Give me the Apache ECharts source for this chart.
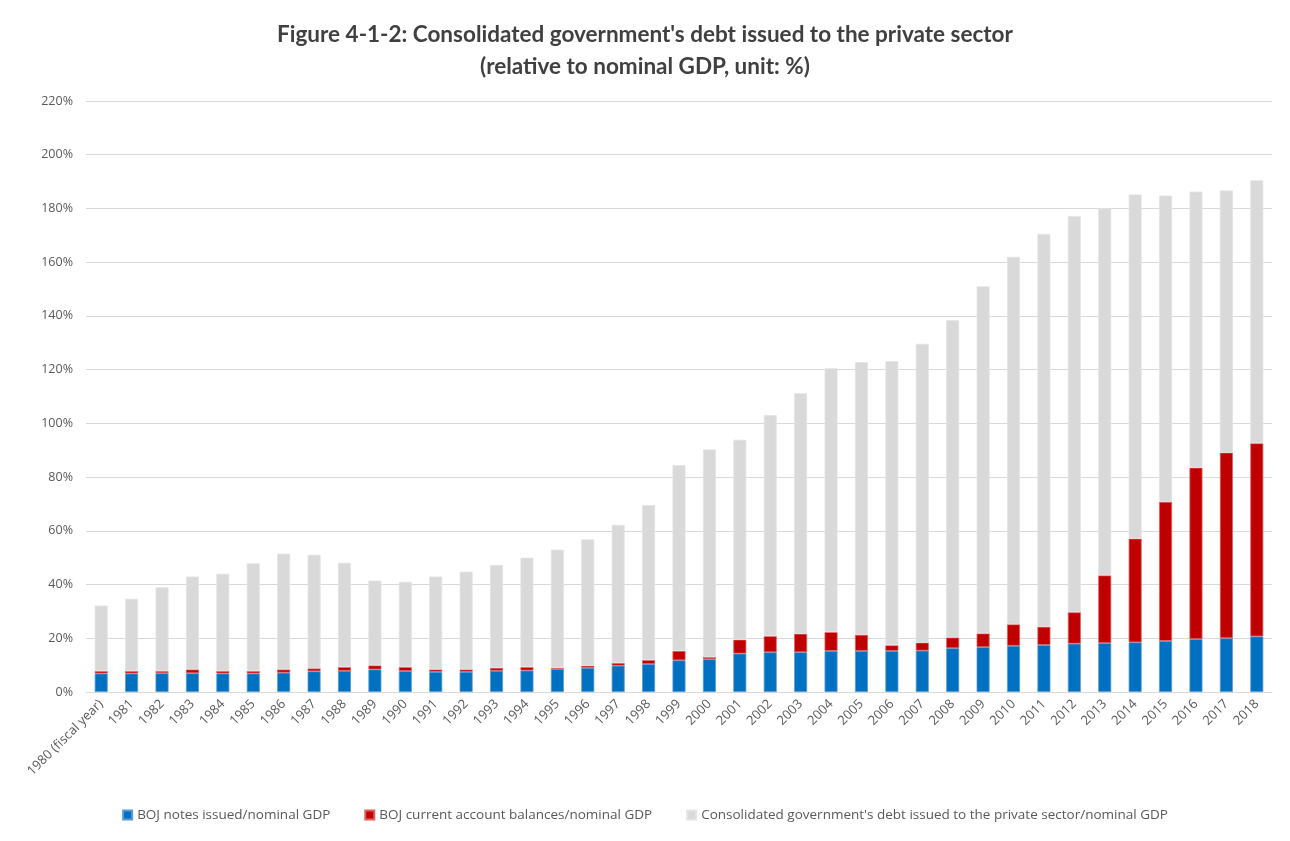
<!DOCTYPE html>
<html><head><meta charset="utf-8">
<script src="https://cdn.jsdelivr.net/npm/echarts@6/dist/echarts.min.js"></script>
<style>html,body{margin:0;padding:0;background:#fff}#c{width:1290px;height:841px}</style>
</head><body><div id="c"></div>
<script>
const categories = ['1980 (fiscal year)','1981','1982','1983','1984','1985','1986','1987','1988','1989','1990','1991','1992','1993','1994','1995','1996','1997','1998','1999','2000','2001','2002','2003','2004','2005','2006','2007','2008','2009','2010','2011','2012','2013','2014','2015','2016','2017','2018'];
const bojNotes = [6.9,6.9,7.0,7.0,6.9,6.9,7.2,7.7,7.9,8.4,7.8,7.5,7.5,7.9,8.0,8.6,9.0,9.8,10.4,11.8,12.2,14.3,14.8,14.8,15.3,15.3,15.3,15.4,16.3,16.7,17.2,17.5,18.0,18.2,18.5,19.0,19.7,20.0,20.7];
const bojCurrent = [0.9,0.9,0.8,1.4,0.9,0.9,1.2,1.1,1.4,1.5,1.5,0.9,0.9,1.1,1.3,0.4,0.8,1.0,1.5,3.5,0.8,5.2,6.0,6.9,7.0,6.0,2.1,3.0,4.0,5.1,8.0,6.8,11.7,25.2,38.6,51.8,63.8,69.1,71.9];
const govDebt = [24.4,26.9,31.2,34.6,36.2,40.1,43.1,42.3,38.8,31.6,31.7,34.6,36.4,38.3,40.7,44.0,47.0,51.4,57.7,69.2,77.3,74.4,82.3,89.5,98.2,101.5,105.8,111.2,118.1,129.2,136.8,146.2,147.5,136.6,128.1,114.0,102.8,97.6,97.9];
const seriesNames = ['BOJ notes issued/nominal GDP','BOJ current account balances/nominal GDP',"Consolidated government's debt issued to the private sector/nominal GDP"];
const yTicks = {min:0,max:220,interval:20};

const chart = echarts.init(document.getElementById('c'));
const font = "'Open Sans', sans-serif";
function bar(name, data, color, border){
  return {name, type:'bar', stack:'t', data, barWidth:13,
    itemStyle:{color, borderColor:border, borderWidth:0.8}, emphasis:{disabled:true}};
}
chart.setOption({
  animation:false,
  title:{text:"Figure 4-1-2: Consolidated government's debt issued to the private sector\n(relative to nominal GDP, unit: %)",
    left:'center', top:14,
    textStyle:{fontFamily:'Lato, sans-serif', fontWeight:'bold', fontSize:22.5, color:'#404040', lineHeight:32}},
  grid:{left:86, right:18, top:101, bottom:149, containLabel:false},
  legend:{bottom:14, left:'center', itemWidth:9, itemHeight:9, itemGap:34, icon:'rect',
    textStyle:{fontFamily:font, fontSize:13.5, color:'#595959'}},
  xAxis:{type:'category', data:categories,
    axisLine:{lineStyle:{color:'#d9d9d9'}}, axisTick:{show:false},
    axisLabel:{rotate:45, interval:0, fontFamily:font, fontSize:13, color:'#595959', margin:10}},
  yAxis:{type:'value', min:yTicks.min, max:yTicks.max, interval:yTicks.interval,
    axisLabel:{formatter:'{value}%', fontFamily:font, fontSize:12.5, color:'#595959', margin:13},
    axisLine:{show:false}, axisTick:{show:false},
    splitLine:{lineStyle:{color:'#d9d9d9'}}},
  series:[
    bar(seriesNames[0], bojNotes, '#0070c0', '#5b9bd5'),
    bar(seriesNames[1], bojCurrent, '#c00000', '#e06060'),
    bar(seriesNames[2], govDebt, '#d9d9d9', '#e4e4e4')
  ]
});
</script></body></html>
